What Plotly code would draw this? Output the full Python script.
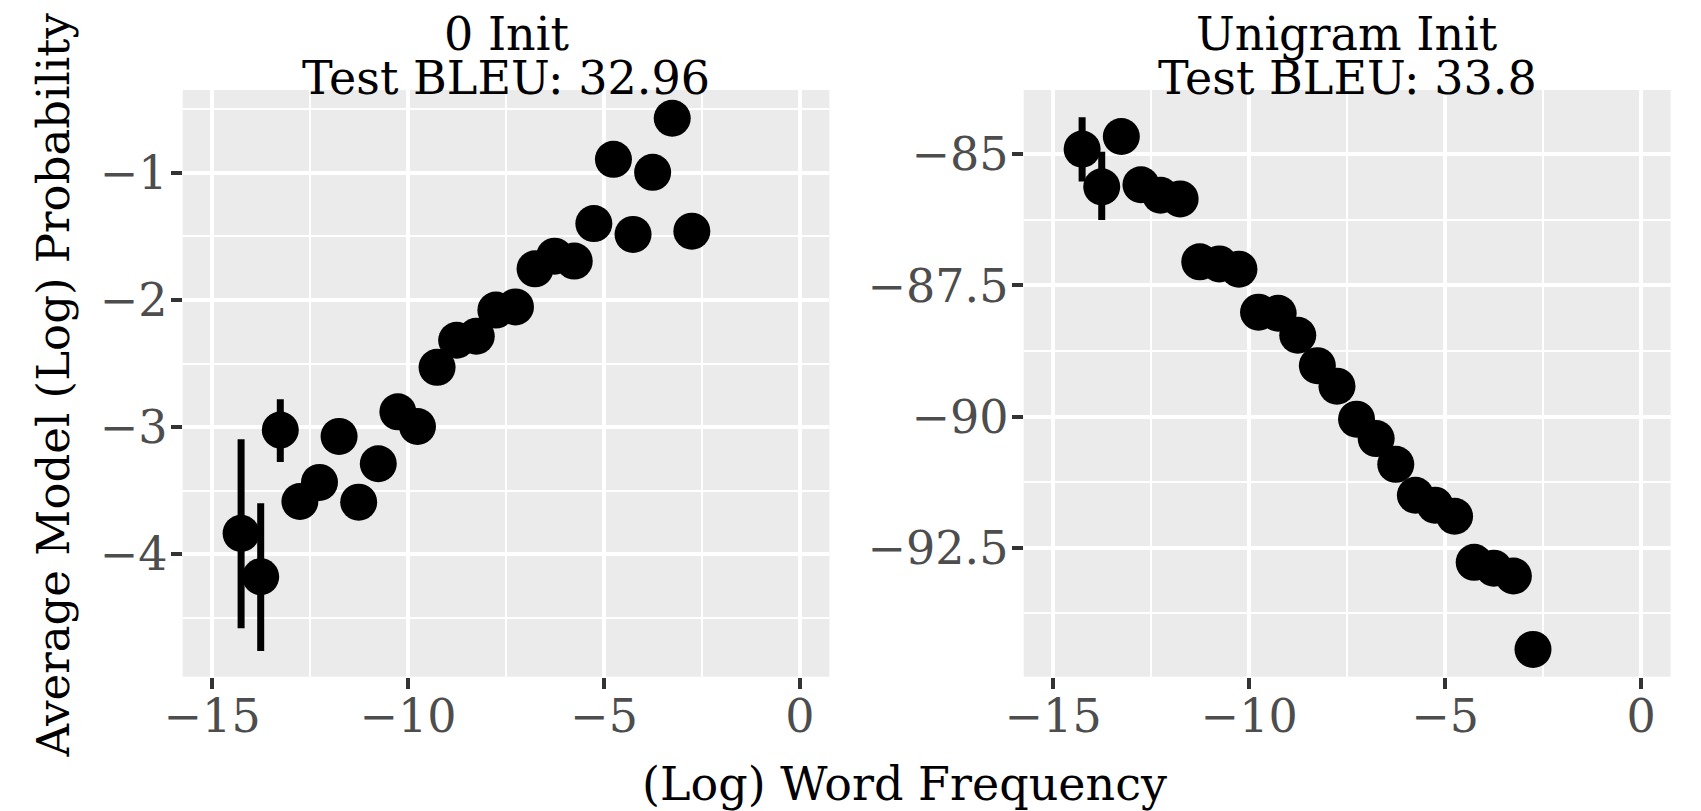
import plotly.graph_objects as go

# ---- data ----
log_freq = [-14.26, -13.76, -13.26, -12.76, -12.26, -11.76, -11.26, -10.76,
            -10.26, -9.76, -9.26, -8.76, -8.26, -7.76, -7.26, -6.76,
            -6.26, -5.76, -5.26, -4.76, -4.26, -3.76, -3.26, -2.76]

zero_init_prob = [-3.835, -4.176, -3.023, -3.585, -3.435, -3.073, -3.59, -3.288,
                  -2.88, -2.995, -2.53, -2.317, -2.286, -2.08, -2.055, -1.756,
                  -1.656, -1.695, -1.40, -0.895, -1.485, -0.997, -0.572, -1.46]
zero_init_upper = [-3.096, -3.599, -2.781] + [None] * 21
zero_init_lower = [-4.582, -4.759, -3.274] + [None] * 21

unigram_init_prob = [-84.90, -85.62, -84.66, -85.58, -85.78, -85.85, -87.05, -87.09,
                     -87.19, -88.01, -88.03, -88.45, -89.03, -89.42, -90.05, -90.42,
                     -90.91, -91.50, -91.69, -91.90, -92.78, -92.89, -93.04, -94.44]
unigram_init_upper = [-84.294, -84.95] + [None] * 22
unigram_init_lower = [-85.52, -86.25] + [None] * 22

titles = [("0 Init", "Test BLEU: 32.96"), ("Unigram Init", "Test BLEU: 33.8")]

x_tickvals = [-15, -10, -5, 0]
x_ticktext = ["\u221215", "\u221210", "\u22125", "0"]
y1_tickvals = [-4, -3, -2, -1]
y1_ticktext = ["\u22124", "\u22123", "\u22122", "\u22121"]
y2_tickvals = [-92.5, -90, -87.5, -85]
y2_ticktext = ["\u221292.5", "\u221290", "\u221287.5", "\u221285"]

x_label = "(Log) Word Frequency"
y_label = "Average Model (Log) Probability"


def err_arrays(vals, upper, lower):
    plus = [(u - v) if u is not None else 0 for v, u in zip(vals, upper)]
    minus = [(v - l) if l is not None else 0 for v, l in zip(vals, lower)]
    return plus, minus


FONT = "DejaVu Serif"
W, H = 1701, 811
OFF = 8  # page body margin

fig = go.Figure()
for i, (vals, up, lo) in enumerate([(zero_init_prob, zero_init_upper, zero_init_lower),
                                    (unigram_init_prob, unigram_init_upper, unigram_init_lower)]):
    plus, minus = err_arrays(vals, up, lo)
    fig.add_trace(go.Scatter(
        x=log_freq, y=vals, mode="markers",
        marker=dict(size=37, color="black", line=dict(width=0)),
        error_y=dict(type="data", symmetric=False, array=plus, arrayminus=minus,
                     thickness=7, width=0, color="black"),
        xaxis="x" if i == 0 else "x2", yaxis="y" if i == 0 else "y2",
        showlegend=False, hoverinfo="x+y"))

tickfont = dict(family=FONT, size=46, color="#4D4D4D")
common = dict(showline=False, zeroline=False, ticks="outside", ticklen=11, tickwidth=4,
              tickcolor="#333333", gridcolor="white", gridwidth=4,
              tickfont=tickfont, tickmode="array", automargin=False)
xcommon = dict(ticklabelstandoff=-12, **common)
ycommon = dict(ticklabelstandoff=-6, **common)

px = lambda v: (v - OFF) / W
py = lambda v: 1 - (v - OFF) / H

xdom1 = [px(182.7), px(829.4)]
xdom2 = [px(1023.7), px(1670.6)]
ydom = [py(676.7), py(90)]

fig.update_layout(
    width=W, height=H, margin=dict(l=0, r=0, t=0, b=0, pad=0, autoexpand=False),
    paper_bgcolor="white", plot_bgcolor="#EBEBEB",
    font=dict(family=FONT),
    xaxis=dict(domain=xdom1, range=[-15.75, 0.75], tickvals=x_tickvals, ticktext=x_ticktext,
               anchor="y", minor=dict(showgrid=True, gridcolor="white", gridwidth=2.2,
                                      tickvals=[-12.5, -7.5, -2.5]), **xcommon),
    yaxis=dict(domain=ydom, range=[-4.962, -0.350], tickvals=y1_tickvals, ticktext=y1_ticktext,
               anchor="x", minor=dict(showgrid=True, gridcolor="white", gridwidth=2.2,
                                      tickvals=[-4.5, -3.5, -2.5, -1.5, -0.5]), **ycommon),
    xaxis2=dict(domain=xdom2, range=[-15.75, 0.75], tickvals=x_tickvals, ticktext=x_ticktext,
                anchor="y2", minor=dict(showgrid=True, gridcolor="white", gridwidth=2.2,
                                        tickvals=[-12.5, -7.5, -2.5]), **xcommon),
    yaxis2=dict(domain=ydom, range=[-94.96, -83.773], tickvals=y2_tickvals, ticktext=y2_ticktext,
                anchor="x2", minor=dict(showgrid=True, gridcolor="white", gridwidth=2.2,
                                        tickvals=[-93.75, -91.25, -88.75, -86.25]), **ycommon),
)

ann = []
centers = [(xdom1[0] + xdom1[1]) / 2, (xdom2[0] + xdom2[1]) / 2]
for (l1, l2), cx in zip(titles, centers):
    ann.append(dict(text=l1, x=cx, y=py(34.4), xref="paper", yref="paper",
                    xanchor="center", yanchor="middle", showarrow=False,
                    font=dict(family=FONT, size=46, color="black")))
    ann.append(dict(text=l2, x=cx, y=py(77.7), xref="paper", yref="paper",
                    xanchor="center", yanchor="middle", showarrow=False,
                    font=dict(family=FONT, size=46, color="black")))
ann.append(dict(text=x_label, x=px(904), y=py(783.7), xref="paper", yref="paper",
                xanchor="center", yanchor="middle", showarrow=False,
                font=dict(family=FONT, size=46, color="black")))
ann.append(dict(text=y_label, x=px(52.5), y=py(385), xref="paper", yref="paper",
                xanchor="center", yanchor="middle", showarrow=False, textangle=-90,
                font=dict(family=FONT, size=45, color="black")))
fig.update_layout(annotations=ann)

fig.write_html("out.html")
